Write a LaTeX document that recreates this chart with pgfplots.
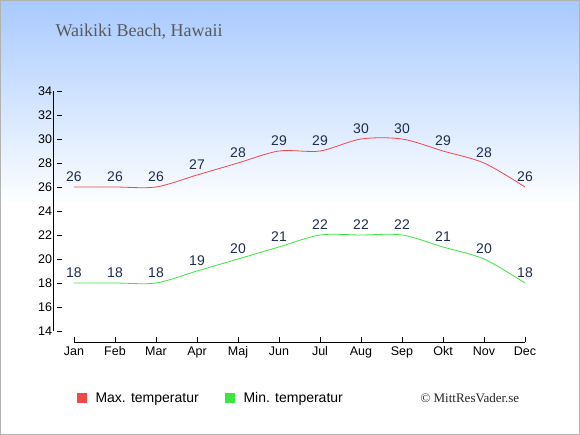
\documentclass[border=0pt]{standalone}
\usepackage{pgfplots}
\pgfplotsset{compat=1.18}
\usepackage{fontspec}
\setmainfont{Liberation Sans}
\newfontfamily\seriffont{Liberation Serif}
\definecolor{bgtop}{RGB}{168,202,255}
\definecolor{bgbot}{RGB}{253,254,255}
\definecolor{maxc}{RGB}{240,72,72}
\definecolor{minc}{RGB}{60,230,60}
\definecolor{lab}{RGB}{30,45,80}
\begin{document}
\begin{tikzpicture}
\fill[white] (0pt,0pt) rectangle (580pt,435pt);
\shade[top color=bgtop, bottom color=bgbot] (0pt,232pt) rectangle (580pt,435pt);
\draw[gray!60, line width=1pt] (0.5pt,0.5pt) rectangle (579.5pt,434.5pt);
\node[anchor=base west, text=black!65, font=\seriffont\fontsize{18}{20}\selectfont] at (52pt,398pt) {Waikiki Beach, Hawaii};
\begin{axis}[
  at={(53.5pt,93pt)}, anchor=south west,
  scale only axis, width=492pt, height=251pt,
  xmin=-0.5, xmax=11.5, ymin=13.083, ymax=34,
  clip=false,
  axis x line*=bottom, axis y line*=left,
  axis line style={draw=none},
  xtick={0,...,11},
  xticklabels={Jan,Feb,Mar,Apr,Maj,Jun,Jul,Aug,Sep,Okt,Nov,Dec},
  ytick={14,16,...,34},
  tick style={black, line width=0.8pt},
  major tick length=5pt,
  ytick style={xshift=3pt},
  tick label style={font=\fontsize{12.5}{14}\selectfont, text=black},
  /pgf/number format/assume math mode=true,
  yticklabel style={xshift=2pt},
  xticklabel style={yshift=-1pt},
  nodes near coords,
  every node near coord/.append style={font=\fontsize{14}{16}\selectfont, text=lab, anchor=south, yshift=2pt},
]
\addplot[maxc, line width=0.8pt, smooth, tension=0.5] coordinates {
(0,26) (1,26) (2,26) (3,27) (4,28) (5,29) (6,29) (7,30) (8,30) (9,29) (10,28) (11,26)};
\addplot[minc, line width=0.8pt, smooth, tension=0.5] coordinates {
(0,18) (1,18) (2,18) (3,19) (4,20) (5,21) (6,22) (7,22) (8,22) (9,21) (10,20) (11,18)};
\draw[black, line width=0.8pt] (axis cs:-0.5,14) -- (axis cs:-0.5,34);
\draw[black, line width=0.8pt] (axis cs:0,13.083) -- (axis cs:11,13.083);
\end{axis}
\fill[maxc] (77pt,32pt) rectangle (87pt,42pt);
\node[anchor=base west, font=\fontsize{14}{16}\selectfont] at (92pt,32pt) {Max. temperatur};
\fill[minc] (225pt,32pt) rectangle (235pt,42pt);
\node[anchor=base west, font=\fontsize{14}{16}\selectfont] at (240pt,32pt) {Min. temperatur};
\node[anchor=base west, text=black!85, font=\seriffont\fontsize{13}{15}\selectfont] at (417pt,32pt) {© MittResVader.se};
\end{tikzpicture}
\end{document}
